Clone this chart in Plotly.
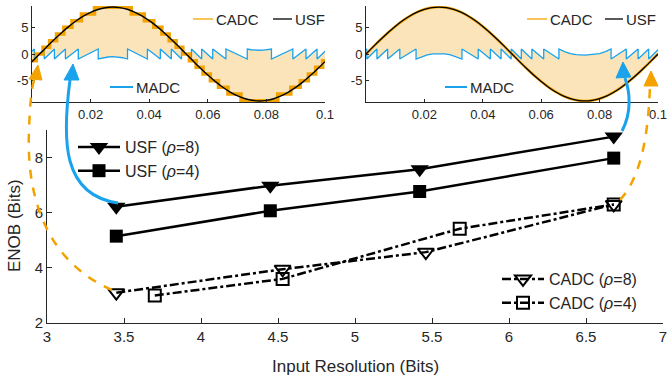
import plotly.graph_objects as go

# ---------------- main chart data ----------------
res_usf8 = [3.45, 4.45, 5.42, 6.68]
enob_usf8 = [6.22, 6.98, 7.58, 8.76]
res_usf4 = [3.45, 4.45, 5.42, 6.68]
enob_usf4 = [5.15, 6.07, 6.77, 7.98]
res_cadc8 = [3.45, 4.53, 5.46, 6.68]
enob_cadc8 = [3.10, 3.95, 4.57, 6.30]
res_cadc4 = [3.70, 4.53, 5.68, 6.68]
enob_cadc4 = [3.00, 3.60, 5.42, 6.30]

main_xticks = [3, 3.5, 4, 4.5, 5, 5.5, 6, 6.5, 7]
main_xticklabels = ['3', '3.5', '4', '4.5', '5', '5.5', '6', '6.5', '7']
main_yticks = [2, 4, 6, 8]
main_yticklabels = ['2', '4', '6', '8']

# ---------------- inset data ----------------
t_usf = [0, 0.0025, 0.005, 0.0075, 0.01, 0.0125, 0.015, 0.0175, 0.02, 0.0225,
         0.025, 0.0275, 0.03, 0.0325, 0.035, 0.0375, 0.04, 0.0425, 0.045, 0.0475,
         0.05, 0.0525, 0.055, 0.0575, 0.06, 0.0625, 0.065, 0.0675, 0.07, 0.0725,
         0.075, 0.0775, 0.08, 0.0825, 0.085, 0.0875, 0.09, 0.0925, 0.095, 0.0975, 0.1]
usf_left = [-1.43, -0.06, 1.32, 2.67, 3.95, 5.13, 6.18, 7.09, 7.82, 8.35,
            8.68, 8.80, 8.70, 8.39, 7.87, 7.15, 6.26, 5.22, 4.05, 2.77,
            1.43, 0.06, -1.32, -2.67, -3.95, -5.13, -6.18, -7.09, -7.82, -8.35,
            -8.68, -8.80, -8.70, -8.39, -7.87, -7.15, -6.26, -5.22, -4.05, -2.77, -1.43]
usf_right = [0, 1.38, 2.72, 4.00, 5.17, 6.22, 7.12, 7.84, 8.37, 8.69,
             8.80, 8.69, 8.37, 7.84, 7.12, 6.22, 5.17, 4.00, 2.72, 1.38,
             0, -1.38, -2.72, -4.00, -5.17, -6.22, -7.12, -7.84, -8.37, -8.69,
             -8.80, -8.69, -8.37, -7.84, -7.12, -6.22, -5.17, -4.00, -2.72, -1.38, 0]

cadc_left_t = [0, 0.00147, 0.00377, 0.00602, 0.00838, 0.01088, 0.01364, 0.01687, 0.02133,
               0.03388, 0.03833, 0.04156, 0.04432, 0.04682, 0.04918, 0.05147, 0.05373,
               0.05602, 0.05838, 0.06088, 0.06364, 0.06687, 0.07133, 0.08388, 0.08833,
               0.09156, 0.09432, 0.09682, 0.09918, 0.1]
cadc_left_v = [-1.25, 0, 1.25, 2.5, 3.75, 5, 6.25, 7.5, 8.75,
               7.5, 6.25, 5, 3.75, 2.5, 1.25, 0, -1.25,
               -2.5, -3.75, -5, -6.25, -7.5, -8.75, -7.5, -6.25,
               -5, -3.75, -2.5, -1.25, -1.25]

madc_left_t = [0, 0.00078, 0.00078, 0.00418, 0.00418, 0.00765, 0.00765, 0.0114, 0.0114,
               0.01581, 0.01581, 0.0226, 0.0226, 0.02427, 0.02593, 0.0276, 0.02927, 0.03093,
               0.0326, 0.0326, 0.03939, 0.03939, 0.0438, 0.0438, 0.04755, 0.04755,
               0.05103, 0.05103, 0.05442, 0.05442, 0.05791, 0.05791, 0.06169, 0.06169,
               0.06618, 0.06618, 0.07347, 0.07347, 0.07482, 0.07621, 0.0776, 0.07899,
               0.08038, 0.08173, 0.08173, 0.08902, 0.08902, 0.09351, 0.09351, 0.09729,
               0.09729, 0.1]
madc_left_v = [0.51, 0.94, -0.94, 0.94, -0.94, 0.94, -0.94, 0.94, -0.94,
               0.94, -0.94, 0.94, -0.94, -0.70, -0.56, -0.51, -0.56, -0.70,
               -0.94, 0.94, -0.94, 0.94, -0.94, 0.94, -0.94, 0.94,
               -0.94, 0.94, -0.94, 0.94, -0.94, 0.94, -0.94, 0.94,
               -0.94, 0.94, -0.94, 0.94, 0.80, 0.72, 0.70, 0.72,
               0.80, 0.94, -0.94, 0.94, -0.94, 0.94, -0.94, 0.94,
               -0.94, 0.51]

madc_right_t = [0, 0.00027, 0.00027, 0.00374, 0.00374, 0.00741, 0.00741, 0.01158, 0.01158,
                0.01714, 0.01714, 0.019, 0.021, 0.023, 0.025, 0.027, 0.029, 0.031,
                0.03286, 0.03286, 0.03843, 0.03843, 0.04259, 0.04259, 0.04626, 0.04626,
                0.04973, 0.04973, 0.05319, 0.05319, 0.05681, 0.05681, 0.06086, 0.06086,
                0.06607, 0.06607, 0.068, 0.070, 0.072, 0.075, 0.078, 0.080, 0.082,
                0.08393, 0.08393, 0.08914, 0.08914, 0.09319, 0.09319, 0.09681, 0.09681, 0.1]
madc_right_v = [0.8, 0.95, -0.95, 0.95, -0.95, 0.95, -0.95, 0.95, -0.95,
                0.95, -0.95, -0.52, -0.18, 0.03, 0.10, 0.03, -0.18, -0.52,
                -0.95, 0.95, -0.95, 0.95, -0.95, 0.95, -0.95, 0.95,
                -0.95, 0.95, -0.95, 0.95, -0.95, 0.95, -0.95, 0.95,
                -0.95, 0.95, 0.44, 0.08, -0.12, -0.22, -0.12, 0.08, 0.44,
                0.95, -0.95, 0.95, -0.95, 0.95, -0.95, 0.95, -0.95, 0.8]

inset_xticks = [0.02, 0.04, 0.06, 0.08, 0.1]
inset_xticklabels = ['0.02', '0.04', '0.06', '0.08', '0.1']
inset_yticks = [-5, 0, 5]
inset_yticklabels = ['-5', '0', '5']

# ---------------- styling ----------------
W, H = 669, 379
FONT = 'Liberation Sans, Arial, Helvetica, sans-serif'
TXT = '#262626'
BLUE = '#1AA3EC'
ORANGE = '#F3A200'
ORANGE_L = '#F9C55A'
FILL = 'rgba(247, 196, 100, 0.45)'


def pxx(x):
    return x / W


def pyy(y):
    return 1 - y / H


def path(cmds, close=False):
    s = ''
    for c, pts in cmds:
        if c == 'L':
            for a, b in pts:
                s += 'L %.5f,%.5f ' % (pxx(a), pyy(b))
        else:
            s += c + ' ' + ' '.join('%.5f,%.5f' % (pxx(a), pyy(b)) for a, b in pts) + ' '
    if close:
        s += 'Z'
    return s


fig = go.Figure()

# ---- left inset ----
fig.add_trace(go.Scatter(x=madc_left_t, y=madc_left_v, mode='lines', xaxis='x2', yaxis='y2',
                         line=dict(color=BLUE, width=1.3), showlegend=False))
fig.add_trace(go.Scatter(x=cadc_left_t, y=cadc_left_v, mode='lines', xaxis='x2', yaxis='y2',
                         line=dict(color=ORANGE, width=3.5, shape='hv'), fill='tonexty',
                         fillcolor=FILL, showlegend=False))
fig.add_trace(go.Scatter(x=t_usf, y=usf_left, mode='lines', xaxis='x2', yaxis='y2',
                         line=dict(color='black', width=1.4, shape='spline'), showlegend=False))

# ---- right inset ----
fig.add_trace(go.Scatter(x=madc_right_t, y=madc_right_v, mode='lines', xaxis='x3', yaxis='y3',
                         line=dict(color=BLUE, width=1.3), showlegend=False))
fig.add_trace(go.Scatter(x=t_usf, y=usf_right, mode='lines', xaxis='x3', yaxis='y3',
                         line=dict(color=ORANGE, width=2.6, shape='spline'), fill='tonexty',
                         fillcolor=FILL, showlegend=False))
fig.add_trace(go.Scatter(x=t_usf, y=usf_right, mode='lines', xaxis='x3', yaxis='y3',
                         line=dict(color='black', width=1.3, shape='spline'), showlegend=False))

# ---- main chart ----
fig.add_trace(go.Scatter(x=res_usf8, y=enob_usf8, mode='lines+markers', name='USF (<i>ρ</i>=8)',
                         line=dict(color='black', width=2.5),
                         marker=dict(symbol='triangle-down', size=16, color='black'), legend='legend'))
fig.add_trace(go.Scatter(x=res_usf4, y=enob_usf4, mode='lines+markers', name='USF (<i>ρ</i>=4)',
                         line=dict(color='black', width=2.5),
                         marker=dict(symbol='square', size=13, color='black'), legend='legend'))
fig.add_trace(go.Scatter(x=res_cadc8, y=enob_cadc8, mode='lines+markers', name='CADC (<i>ρ</i>=8)',
                         line=dict(color='black', width=2.5, dash='dashdot'),
                         marker=dict(symbol='triangle-down-open', size=14, color='black',
                                     line=dict(width=2, color='black')), legend='legend2'))
fig.add_trace(go.Scatter(x=res_cadc4, y=enob_cadc4, mode='lines+markers', name='CADC (<i>ρ</i>=4)',
                         line=dict(color='black', width=2.5, dash='dashdot'),
                         marker=dict(symbol='square-open', size=12, color='black',
                                     line=dict(width=2, color='black')), legend='legend2'))

axis_common = dict(showline=True, linecolor=TXT, linewidth=1, ticks='inside', tickcolor=TXT,
                   showgrid=False, zeroline=False, mirror=False)

leg_common = dict(bgcolor='rgba(0,0,0,0)', borderwidth=0, xanchor='left', yanchor='top',
                  tracegroupgap=0, traceorder='normal', itemwidth=42, font=dict(size=16))

annotations = [
    dict(text='ENOB (Bits)', x=pxx(14), y=pyy(226), xref='paper', yref='paper',
         xanchor='center', yanchor='middle', textangle=-90, showarrow=False, font=dict(size=17)),
    dict(text='Input Resolution (Bits)', x=pxx(355), y=pyy(366), xref='paper', yref='paper',
         xanchor='center', yanchor='middle', showarrow=False, font=dict(size=17)),
]

shapes = []

# ---- inset legends drawn manually (line sample + text) ----
inset_legend = [
    (193, 213, 19, ORANGE_L, 2, 'CADC'),
    (273, 292, 19, 'black', 1.3, 'USF'),
    (110, 133, 87, BLUE, 2, 'MADC'),
    (527, 547, 19, ORANGE_L, 2, 'CADC'),
    (605, 623, 19, 'black', 1.3, 'USF'),
    (445, 467, 87, BLUE, 2, 'MADC'),
]
for x0, x1, yy, col, lw, label in inset_legend:
    shapes.append(dict(type='line', xref='paper', yref='paper', x0=pxx(x0), x1=pxx(x1),
                       y0=pyy(yy), y1=pyy(yy), line=dict(color=col, width=lw)))
    annotations.append(dict(text=label, x=pxx(x1 + 1), y=pyy(yy), xref='paper', yref='paper',
                            xanchor='left', yanchor='middle', showarrow=False,
                            font=dict(size=15, color=TXT)))

fig.update_layout(
    width=W, height=H, margin=dict(l=0, r=0, t=0, b=0, autoexpand=False),
    plot_bgcolor='white', paper_bgcolor='white',
    font=dict(family=FONT, color=TXT),
    xaxis=dict(domain=[pxx(47), pxx(663)], range=[3, 7], tickvals=main_xticks,
               ticktext=main_xticklabels, ticklen=5, tickfont=dict(size=15), anchor='y',
               **axis_common),
    yaxis=dict(domain=[pyy(323), pyy(130)], range=[2, 9], tickvals=main_yticks,
               ticktext=main_yticklabels, ticklen=5, tickfont=dict(size=15), anchor='x',
               **axis_common),
    xaxis2=dict(domain=[pxx(32), pxx(325)], range=[0, 0.1], tickvals=inset_xticks,
                ticktext=inset_xticklabels, ticklen=3, tickfont=dict(size=13), anchor='y2',
                **axis_common),
    yaxis2=dict(domain=[pyy(102), pyy(6)], range=[-9, 9], tickvals=inset_yticks,
                ticktext=inset_yticklabels, ticklen=3, tickfont=dict(size=13), anchor='x2',
                **axis_common),
    xaxis3=dict(domain=[pxx(366), pxx(658)], range=[0, 0.1], tickvals=inset_xticks,
                ticktext=inset_xticklabels, ticklen=3, tickfont=dict(size=13), anchor='y3',
                **axis_common),
    yaxis3=dict(domain=[pyy(102), pyy(6)], range=[-9, 9], tickvals=inset_yticks,
                ticktext=inset_yticklabels, ticklen=3, tickfont=dict(size=13), anchor='x3',
                **axis_common),
    legend=dict(x=pxx(73), y=pyy(130), **leg_common),
    legend2=dict(x=pxx(497), y=pyy(262), **leg_common),
    annotations=annotations,
)

# blue arrow, left
shapes.append(dict(type='path', xref='paper', yref='paper', layer='above',
                   path=path([('M', [(118, 203)]), ('C', [(62, 195), (62, 140), (70, 80)])]),
                   line=dict(color=BLUE, width=3)))
shapes.append(dict(type='path', xref='paper', yref='paper', layer='above',
                   path=path([('M', [(73, 64)]), ('L', [(64, 80), (79, 80)])], close=True),
                   fillcolor=BLUE, line=dict(color=BLUE, width=1)))
# blue arrow, right
shapes.append(dict(type='path', xref='paper', yref='paper', layer='above',
                   path=path([('M', [(622, 131)]), ('C', [(632, 112), (630, 92), (625, 78)])]),
                   line=dict(color=BLUE, width=3)))
shapes.append(dict(type='path', xref='paper', yref='paper', layer='above',
                   path=path([('M', [(623, 62)]), ('L', [(616, 78), (631, 77)])], close=True),
                   fillcolor=BLUE, line=dict(color=BLUE, width=1)))
# orange dashed arrow, left
shapes.append(dict(type='path', xref='paper', yref='paper', layer='above',
                   path=path([('M', [(112, 290)]), ('C', [(48, 262), (26, 200), (29, 130)]),
                              ('C', [(30, 105), (31, 92), (34, 80)])]),
                   line=dict(color=ORANGE, width=2.5, dash='dash')))
shapes.append(dict(type='path', xref='paper', yref='paper', layer='above',
                   path=path([('M', [(38, 65)]), ('L', [(29, 79), (42, 80)])], close=True),
                   fillcolor=ORANGE, line=dict(color=ORANGE, width=1)))
# orange dashed arrow, right
shapes.append(dict(type='path', xref='paper', yref='paper', layer='above',
                   path=path([('M', [(620, 200)]), ('C', [(640, 178), (648, 140), (650, 86)])]),
                   line=dict(color=ORANGE, width=2.5, dash='dash')))
shapes.append(dict(type='path', xref='paper', yref='paper', layer='above',
                   path=path([('M', [(651, 71)]), ('L', [(644, 86), (658, 86)])], close=True),
                   fillcolor=ORANGE, line=dict(color=ORANGE, width=1)))
fig.update_layout(shapes=shapes)

fig.write_html('out.html', config={'displayModeBar': False},
               post_script="document.body.style.margin='0px';document.body.style.padding='0px';")
